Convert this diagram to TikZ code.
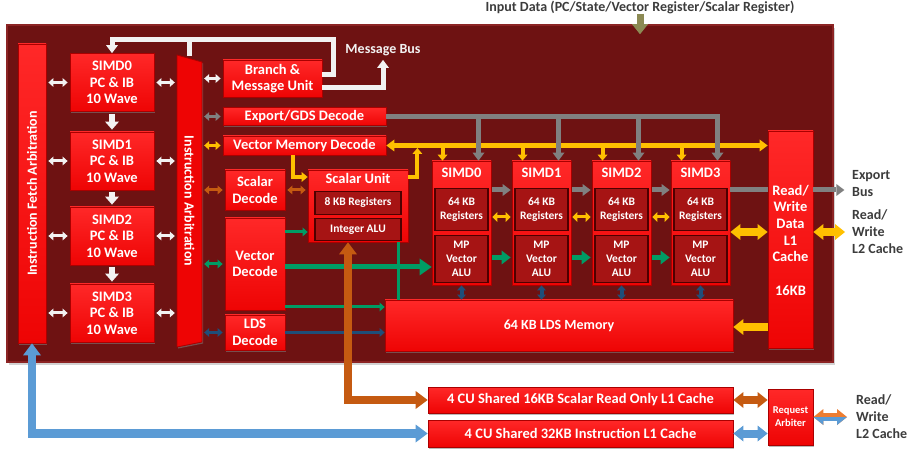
\documentclass[tikz,border=0pt]{standalone}
\usepackage{fontspec}
\setmainfont{Carlito}
\usetikzlibrary{arrows.meta,positioning,shadows}

\definecolor{cuback}{RGB}{110,18,18}
\definecolor{cuedge}{RGB}{140,36,36}
\definecolor{cured}{RGB}{238,4,4}
\definecolor{curedtop}{RGB}{255,40,40}
\definecolor{curedrim}{RGB}{170,0,0}
\definecolor{innerred}{RGB}{166,20,20}
\definecolor{innerrim}{RGB}{78,0,0}
\definecolor{busgray}{RGB}{128,128,128}
\definecolor{busyellow}{RGB}{255,192,0}
\definecolor{busgreen}{RGB}{0,156,100}
\definecolor{busnavy}{RGB}{31,78,121}
\definecolor{busbrown}{RGB}{197,90,17}
\definecolor{busblue}{RGB}{91,155,213}
\definecolor{busorange}{RGB}{237,125,49}
\definecolor{busolive}{RGB}{140,138,84}
\definecolor{buswhite}{RGB}{242,242,242}
\definecolor{lbltext}{RGB}{60,60,60}

\tikzset{
  smallhead/.tip={Triangle[width=9pt,length=5pt,line width=0pt]},
  midhead/.tip={Triangle[width=12pt,length=8pt,line width=0pt]},
  bighead/.tip={Triangle[width=16pt,length=10pt,line width=0pt]},
  fathead/.tip={Triangle[width=18pt,length=12pt,line width=0pt]},
  blk/.style={draw=curedrim, line width=0.8pt, top color=curedtop, bottom color=cured,
    inner sep=0pt, align=center, text=white, font=\fontsize{14.5}{16.5}\selectfont\bfseries,
    drop shadow={shadow xshift=1.2pt, shadow yshift=-1.5pt, opacity=0.55}},
  inr/.style={draw=innerrim, line width=1.2pt, fill=innerred, inner sep=0pt, align=center,
    text=white, font=\fontsize{11.5}{14}\selectfont\bfseries},
  ttl/.style={text=white, font=\fontsize{14.5}{16}\selectfont\bfseries, inner sep=2pt},
  txt/.style={text=white, align=center, inner sep=0pt, font=\fontsize{14.5}{16.7}\selectfont\bfseries},
  lbl/.style={text=lbltext, align=left, inner sep=0pt, font=\fontsize{14}{17}\selectfont\bfseries},
  wdbl/.style={line width=3pt, {smallhead}-{smallhead}, shorten <=2pt, shorten >=2pt},
  wdown/.style={buswhite, line width=6pt, -{Triangle[width=14pt,length=8pt,line width=0pt]},
    shorten <=2pt, shorten >=2pt},
  wbus/.style={buswhite, line width=5pt, line join=miter},
  gbus/.style={busgray, line width=5pt, line join=miter, -{midhead}},
  ybus/.style={busyellow, line width=5pt, {midhead}-{midhead}},
  ydrop/.style={busyellow, line width=4pt, -{Triangle[width=10pt,length=6pt,line width=0pt]}},
  ymid/.style={busyellow, line width=4pt, line join=miter, -{Triangle[width=10pt,length=6pt,line width=0pt]}},
  gsmall/.style={line width=3pt, -{smallhead}},
  ydbl/.style={busyellow, line width=3pt, {Triangle[width=10pt,length=5pt,line width=0pt]}-{Triangle[width=10pt,length=5pt,line width=0pt]}},
  ybig/.style={busyellow, line width=8pt, {bighead}-{bighead}},
  fat/.style={line width=8.5pt, line join=miter, {fathead}-{fathead}}
}

\begin{document}
\begin{tikzpicture}[x=1pt,y=-1pt]
\useasboundingbox (0,0) rectangle (921,462);

% compute unit frame
\node[draw=cuedge, line width=1.5pt, fill=cuback, minimum width=826pt, minimum height=337pt,
  drop shadow={shadow xshift=2pt, shadow yshift=-3pt, opacity=0.35}] (cu) at (420,193.5) {};

\node[lbl] (inp) at (640,7) {Input Data (PC/State/Vector Register/Scalar Register)};
\draw[busolive, line width=7pt, -{bighead}, shorten >=-10pt] (inp.south) -- (inp.south |- cu.north);

% instruction fetch side
\node[blk, minimum width=28pt, minimum height=299pt] (fetch) at (32,193.5) {};
\node[txt, rotate=90, font=\fontsize{14}{15}\selectfont\bfseries] at (fetch) {Instruction Fetch Arbitration};

\foreach \i/\y in {0/82.5,1/161,2/236,3/313}
  \node[blk, minimum width=84pt, minimum height=58pt] (pc\i) at (112,\y) {SIMD\i\\PC \& IB\\10 Wave};
\foreach \i/\j in {0/1,1/2,2/3}
  \draw[wdown] (pc\i.south) -- (pc\j.north);

\node[minimum width=25pt, minimum height=290pt, inner sep=0pt] (arb) at (189.5,201) {};
\filldraw[fill=cured, draw=curedrim, line width=0.8pt,
  drop shadow={shadow xshift=1.2pt, shadow yshift=-1.5pt, opacity=0.55}]
  (177,55) -- (202,62) -- (202,342) -- (177,347) -- cycle;
\node[txt, rotate=-90, font=\fontsize{14}{15}\selectfont\bfseries] at (arb) {Instruction Arbitration};

\foreach \i in {0,...,3} {
  \draw[wdbl, buswhite] (fetch.east |- pc\i.west) -- (pc\i.west);
  \draw[wdbl, buswhite] (pc\i.east) -- (pc\i.east -| arb.west);
}

% decoders
\node[blk, minimum width=99pt, minimum height=37pt] (bmu) at (272.5,78.5) {Branch \&\\Message Unit};
\node[blk, minimum width=163pt, minimum height=18pt] (gds) at (304.5,116.5) {Export/GDS Decode};
\node[blk, minimum width=163pt, minimum height=19pt] (vmd) at (304.5,145.5) {Vector Memory Decode};
\node[blk, minimum width=60pt, minimum height=40pt] (sdec) at (255,190) {Scalar\\Decode};
\node[blk, minimum width=60pt, minimum height=92pt] (vdec) at (255,264) {Vector\\Decode};
\node[blk, minimum width=60pt, minimum height=35pt] (ldec) at (255,332.5) {LDS\\Decode};

\draw[wdbl, buswhite] (arb.east |- bmu.west) -- (bmu.west);
\draw[wdbl, busgray] (arb.east |- gds.west) -- (gds.west);
\draw[wdbl, busyellow] (arb.east |- vmd.west) -- (vmd.west);
\draw[wdbl, busbrown] (arb.east |- sdec.west) -- (sdec.west);
\draw[wdbl, busgreen] (arb.east |- vdec.west) -- (vdec.west);
\draw[wdbl, busnavy] (arb.east |- ldec.west) -- (ldec.west);

% message bus
\coordinate (busTop) at (333,40);
\node[txt, text=buswhite, font=\fontsize{14}{15}\selectfont\bfseries] (msgbus) at (383,50) {Message Bus};
\draw[wbus, -{midhead}] ([yshift=4pt]bmu.east) -| (busTop) -| (pc0.north);
\draw[wbus] (arb.north |- busTop) -- (arb.north);
\draw[wbus, -{midhead}, shorten >=4pt] ([yshift=-9.5pt]bmu.east) -| (msgbus.south);

% scalar unit
\node[blk, minimum width=100pt, minimum height=72pt] (su) at (358,206) {};
\node[ttl, below=2pt of su.north] {Scalar Unit};
\node[inr, minimum width=86pt, minimum height=23pt, below=21pt of su.north] (sureg) {8 KB Registers};
\node[inr, minimum width=86pt, minimum height=22pt, below=3pt of sureg] (sualu) {Integer ALU};

% vector SIMDs
\foreach \i/\x in {0/461.5,1/541.5,2/621.5,3/700.5} {
  \node[blk, minimum width=59pt, minimum height=124pt] (simd\i) at (\x,223) {};
  \node[ttl, below=5pt of simd\i.north] {SIMD\i};
  \node[inr, minimum width=53pt, minimum height=42pt, below=27pt of simd\i.north] (reg\i) {64 KB\\Registers};
  \node[inr, minimum width=53pt, minimum height=47pt, below=4pt of reg\i] (alu\i) {MP\\Vector\\ALU};
  \coordinate (gdrop\i) at ([xshift=17pt]simd\i.north);
  \coordinate (ydrop\i) at ([xshift=-19pt]simd\i.north);
}

\node[blk, minimum width=348pt, minimum height=51pt, font=\fontsize{14}{15}\selectfont\bfseries]
  (lds) at (559,325.5) {64 KB LDS Memory};

\node[blk, minimum width=45pt, minimum height=217pt] (rw) at (790.5,239.5) {};
\node[txt] at (790.5,223.5) {Read/\\Write\\Data\\L1\\Cache};
\node[txt] at (790.5,291) {16KB};

% vector memory bus
\draw[ybus] (vmd.east) -- (vmd.east -| rw.west);
\foreach \i in {0,...,3}
  \draw[ydrop] (ydrop\i |- vmd.east) -- (ydrop\i);
\coordinate (ytap) at ([xshift=-11.5pt]vmd.south);
\draw[ymid] (ytap) |- ([yshift=29pt]su.west);
\coordinate (yrise) at ([xshift=9pt]su.north east);
\draw[ymid, shorten >=2.5pt] ([yshift=29pt]su.east) -| (yrise |- vmd.east);

% export bus
\draw[gbus] (gds.east) -| (gdrop3);
\foreach \i in {0,1,2}
  \draw[gbus] (gdrop\i |- gds.east) -- (gdrop\i);

% decode to units
\draw[wdbl, busbrown] (sdec.east) -- (sdec.east -| su.west);
\coordinate (gsu) at ([yshift=32pt]vdec.east);
\draw[gsmall, busgreen] (gsu) -- (gsu -| su.west);
\coordinate (galu) at ([yshift=-3pt]vdec.east);
\draw[busgreen, line width=5pt, -{Triangle[width=17pt,length=12pt,line width=0pt]}] (galu) -- (galu -| simd0.west);
\coordinate (gvert) at ([xshift=40pt]su.south);
\draw[busgreen, line width=3pt] (gvert) -- (gvert |- lds.north);
\coordinate (glds) at ([yshift=-43pt]vdec.east);
\draw[gsmall, busgreen] (glds) -- (glds -| lds.west);
\draw[gsmall, busnavy] (ldec.east) -- (ldec.east -| lds.west);

% SIMD chain
\foreach \i/\j in {0/1,1/2,2/3} {
  \draw[busgray, line width=5pt, -{midhead}, shorten <=1pt, shorten >=1pt] ([yshift=33pt]simd\i.east) -- ([yshift=33pt]simd\j.west);
  \draw[ydbl, shorten <=1pt, shorten >=1pt] ([yshift=6pt]simd\i.east) -- ([yshift=6pt]simd\j.west);
  \draw[busgreen, line width=5pt, -{Triangle[width=14pt,length=9pt,line width=0pt]}, shorten <=1pt, shorten >=1pt]
    ([yshift=-34.5pt]simd\i.east) -- ([yshift=-34.5pt]simd\j.west);
}
\foreach \i in {0,...,3}
  \draw[busnavy, line width=4pt, {smallhead}-{smallhead}] (simd\i.south) -- (simd\i.south |- lds.north);

% L1 data cache links
\draw[busgray, line width=5pt] ([yshift=33pt]simd3.east) -- ([yshift=49.5pt]rw.west);
\node[lbl, anchor=west] (expbus) at (852,184) {Export\\Bus};
\coordinate (expend) at ([xshift=31pt,yshift=49.5pt]rw.east);
\draw[busgray, line width=5pt, -{midhead}] ([yshift=49.5pt]rw.east) -- (expend);
\draw[ybig] ([yshift=-9pt]simd3.east) -- ([yshift=7.5pt]rw.west);
\node[lbl, anchor=west] (l2a) at (852,232) {Read/\\Write\\L2 Cache};
\draw[ybig] ([yshift=7.5pt]rw.east) -- ([xshift=-7pt]l2a.west);
\draw[busyellow, line width=8pt, -{bighead}] ([yshift=-87.5pt]rw.west) -- ([yshift=-1.5pt]lds.east);

% shared caches
\node[blk, minimum width=305pt, minimum height=26pt] (scache) at (580.5,400) {4 CU Shared 16KB Scalar Read Only L1 Cache};
\node[blk, minimum width=305pt, minimum height=27pt] (icache) at (580.5,433.5) {4 CU Shared 32KB Instruction L1 Cache};
\node[blk, minimum width=45pt, minimum height=56pt, font=\fontsize{10.5}{13}\selectfont\bfseries] (rqarb) at (790.5,417) {Request\\Arbiter};

\draw[fat, busbrown] ([xshift=-10pt]su.south) |- (scache.west);
\draw[fat, busblue] (fetch.south) |- (icache.west);
\draw[line width=8pt, busbrown, {bighead}-{bighead}] (scache.east) -- (scache.east -| rqarb.west);
\draw[line width=8pt, busblue, {bighead}-{bighead}] (icache.east) -- (icache.east -| rqarb.west);

\node[lbl, anchor=west] (l2b) at (856,417) {Read/\\Write\\L2 Cache};
\draw[line width=8pt, busorange, {bighead}-{bighead}] (rqarb.east) -- ([xshift=-9pt]l2b.west);
\begin{scope}
  \clip (rqarb.east) rectangle ([yshift=-15pt]l2b.west);
  \draw[line width=8pt, busblue, {bighead}-{bighead}] (rqarb.east) -- ([xshift=-9pt]l2b.west);
\end{scope}
\end{tikzpicture}
\end{document}
